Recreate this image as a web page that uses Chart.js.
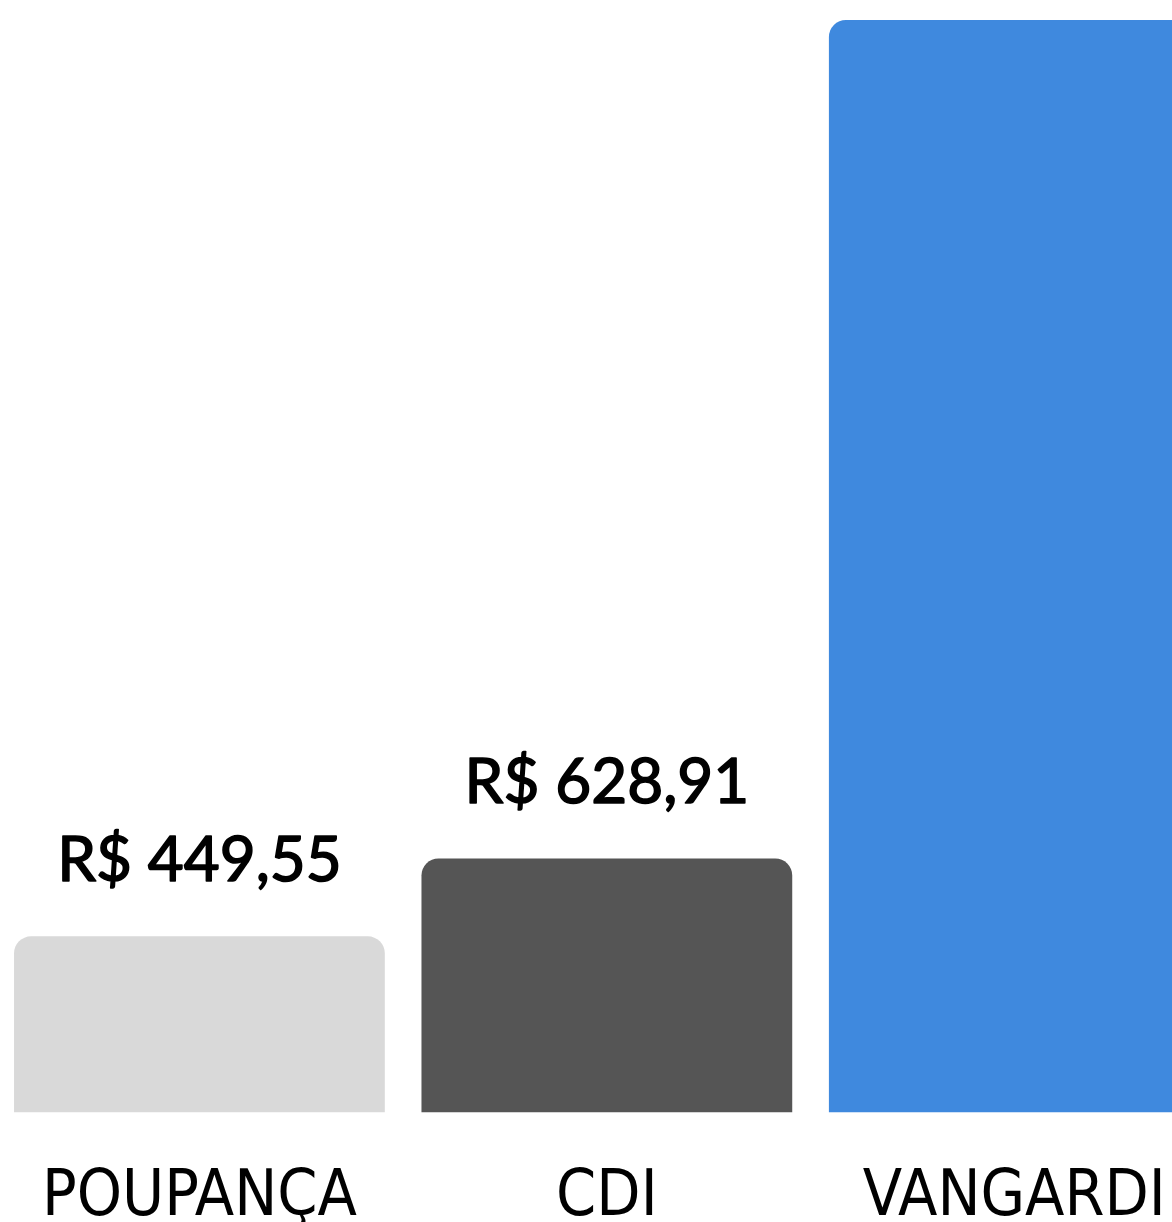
<!DOCTYPE html>
<html>
<head>
<meta charset="utf-8">
<script src="https://cdn.jsdelivr.net/npm/chart.js"></script>
<style>
  html, body { margin:0; padding:0; background:#fff; overflow:hidden; width:1172px; height:1222px; }
  #wrap { position:absolute; left:-6px; top:-120px; width:1224px; height:1405px; }
  canvas { display:block; }
</style>
</head>
<body>
<div id="wrap"><canvas id="chartCanvas" width="1224" height="1405"></canvas></div>
<script>
  // chart data
  const categories = ['POUPANÇA', 'CDI', 'VANGARDI'];
  const values = [449.55, 628.91, 2558];
  const barColors = ['#d9d9d9', '#555555', '#3f89de'];

  // R$ 1.234,56 style
  function brl(v) {
    const parts = v.toFixed(2).split('.');
    const int = parts[0].replace(/\B(?=(\d{3})+(?!\d))/g, '.');
    return 'R$ ' + int + ',' + parts[1];
  }

  // value labels drawn above each bar
  const valueLabels = {
    id: 'valueLabels',
    afterDatasetsDraw(chart) {
      const ctx = chart.ctx;
      const meta = chart.getDatasetMeta(0);
      ctx.save();
      ctx.font = '62px Lato';
      ctx.fillStyle = '#000';
      ctx.strokeStyle = '#000';
      ctx.lineWidth = 1.6;
      ctx.lineJoin = 'round';
      ctx.textAlign = 'center';
      ctx.textBaseline = 'alphabetic';
      meta.data.forEach((bar, i) => {
        const txt = brl(values[i]);
        ctx.fillText(txt, bar.x, bar.y - 55);
        ctx.strokeText(txt, bar.x, bar.y - 55);
      });
      ctx.restore();
    }
  };

  new Chart(document.getElementById('chartCanvas'), {
    type: 'bar',
    data: {
      labels: categories,
      datasets: [{
        data: values,
        backgroundColor: barColors,
        borderWidth: 0,
        borderRadius: { topLeft: 17, topRight: 17, bottomLeft: 0, bottomRight: 0 },
        borderSkipped: 'start',
        barPercentage: 1,
        categoryPercentage: 0.91
      }]
    },
    options: {
      responsive: false,
      animation: false,
      devicePixelRatio: 1,
      layout: { padding: 0 },
      plugins: {
        legend: { display: false },
        tooltip: { enabled: false },
        title: { display: false }
      },
      scales: {
        x: {
          grid: { display: false, drawTicks: false },
          border: { display: false },
          ticks: {
            padding: 48,
            color: '#000',
            font: { family: 'DejaVu Sans Condensed', size: 64 }
          }
        },
        y: {
          display: false,
          min: 45,
          max: 2880
        }
      }
    },
    plugins: [valueLabels]
  });
</script>
</body>
</html>
